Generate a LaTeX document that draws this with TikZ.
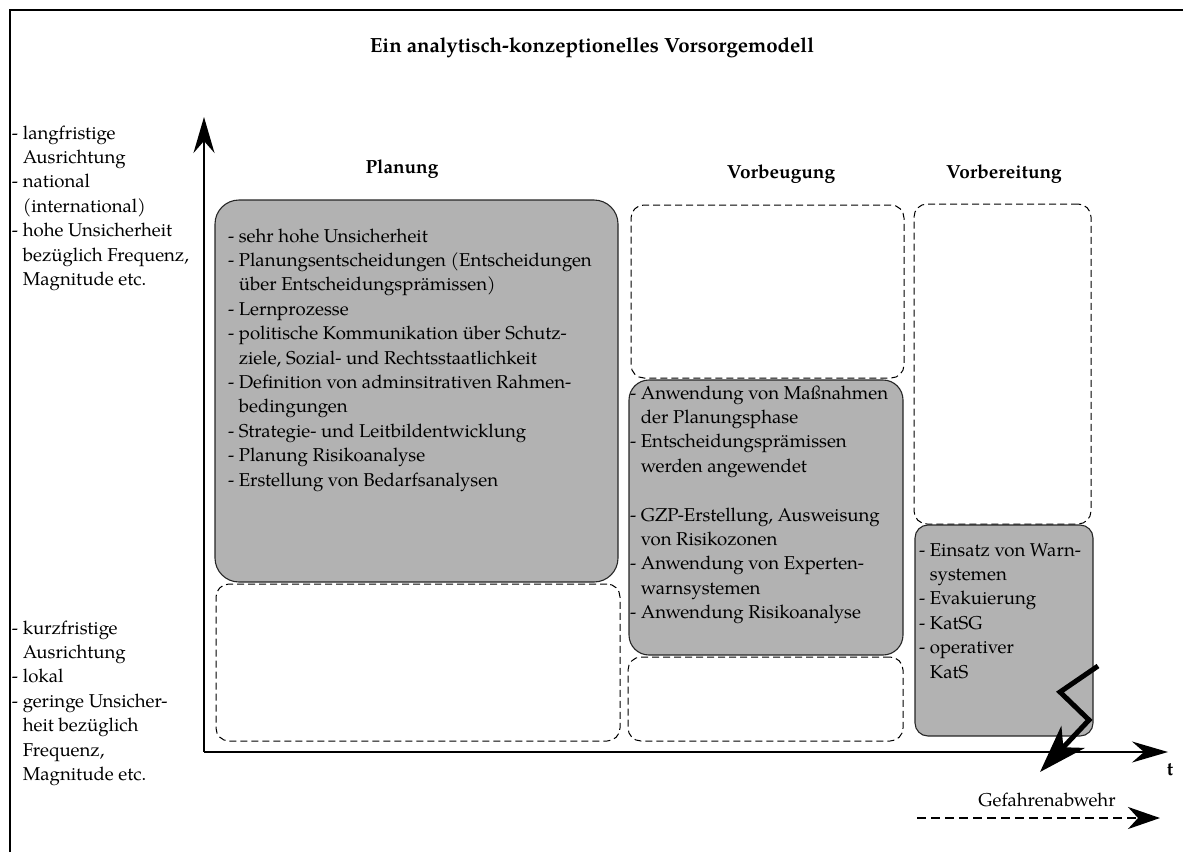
\documentclass[tikz,border=0pt]{standalone}
\usepackage{fontspec}
\setmainfont{TeX Gyre Pagella}
\usetikzlibrary{arrows.meta}
% a left-aligned block whose baseline is that of its first line
\newcommand{\lns}[1]{\begin{tabular}[t]{@{}l@{}}#1\end{tabular}}
% indent of a continued list line
\newcommand{\ind}{\hphantom{-\ }}
\begin{document}
\begin{tikzpicture}[x=1pt,y=-1pt,
  every node/.style={inner sep=0pt, outer sep=0pt},
  txt/.style={anchor=base west, font=\fontsize{18.6}{24.4}\selectfont},
  head/.style={anchor=base, font=\fontsize{19}{24}\selectfont\bfseries},
  graybox/.style={draw=black!85, fill=black!30, line width=1.1pt, anchor=north west},
  dashbox/.style={draw, line width=1pt, dash pattern=on 7pt off 4pt, rounded corners=13pt, anchor=north west},
  axis/.style={line width=1.6pt, -{Stealth[length=36pt,width=21pt,inset=12pt]}},
]
\useasboundingbox (0,0) rectangle (1183,852);

% frame
\draw[line width=1.1pt] (10,852) -- (10,10) -- (1183,10);

% title and phase headings
\node[head, font=\fontsize{20.5}{24}\selectfont\bfseries] (title) at (592,52) {Ein analytisch-konzeptionelles Vorsorgemodell};
\node[head] (hplan) at (402,173) {Planung};
\node[head] (hvbg) at (781,178) {Vorbeugung};
\node[head] (hvbt) at (1004,178) {Vorbereitung};

% phase boxes
\node[graybox, rounded corners=24pt, minimum width=403pt, minimum height=382pt] (planA) at (215,200) {};
\node[dashbox, minimum width=404pt, minimum height=157pt] (planB) at (216,584) {};
\node[dashbox, minimum width=273pt, minimum height=173pt] (vbgA) at (631,205) {};
\node[graybox, rounded corners=20pt, minimum width=274pt, minimum height=275pt] (vbgB) at (629,380) {};
\node[dashbox, minimum width=275pt, minimum height=84pt] (vbgC) at (628,657) {};
\node[dashbox, minimum width=177pt, minimum height=320pt] (vbtA) at (914,204) {};
\node[graybox, rounded corners=13pt, minimum width=178pt, minimum height=211pt] (vbtB) at (915,525) {};

% box contents
\node[txt] (tplan) at (228,242) {\lns{%
- sehr hohe Unsicherheit\\
- Planungsentscheidungen (Entscheidungen\\
\ind \"uber Entscheidungspr\"amissen)\\
- Lernprozesse\\
- politische Kommunikation \"uber Schutz-\\
\ind ziele, Sozial- und Rechtsstaatlichkeit\\
- Definition von adminsitrativen Rahmen-\\
\ind bedingungen\\
- Strategie- und Leitbildentwicklung\\
- Planung Risikoanalyse\\
- Erstellung von Bedarfsanalysen}};

\node[txt] (tvbg) at (630,399) {\lns{%
- Anwendung von Ma\ss nahmen\\
\ind der Planungsphase\\
- Entscheidungspr\"amissen\\
\ind werden angewendet\\
\mbox{}\\
- GZP-Erstellung, Ausweisung\\
\ind von Risikozonen\\
- Anwendung von Experten-\\
\ind warnsystemen\\
- Anwendung Risikoanalyse}};

\node[txt] (tvbt) at (919,556) {\lns{%
- Einsatz von Warn-\\
\ind systemen\\
- Evakuierung\\
- KatSG\\
- operativer\\
\ind KatS}};

% descriptions of the vertical scale
\node[txt] (ltop) at (12,139) {\lns{%
- langfristige\\
\ind Ausrichtung\\
- national\\
\ind (international)\\
- hohe Unsicherheit\\
\ind bez\"uglich Frequenz,\\
\ind Magnitude etc.}};

\node[txt] (lbot) at (12,634) {\lns{%
- kurzfristige\\
\ind Ausrichtung\\
- lokal\\
- geringe Unsicher-\\
\ind heit bez\"uglich\\
\ind Frequenz,\\
\ind Magnitude etc.}};

% axes
\coordinate (O) at (204,752);
\coordinate (ytop) at (204,117);
\coordinate (xend) at (1168,752);
\draw[axis] (O) -- (ytop);
\draw[axis] (O) -- (xend);
\node[head] (tlab) at (1170,775) {t};

% hazard flash
\coordinate (z1) at (1098,666);
\coordinate (z2) at (1060,692);
\coordinate (z3) at (1089,720);
\coordinate (z4) at (1040,772);
\draw[line width=5pt, -{Stealth[length=48pt,width=32pt,inset=14pt]}] (z1) -- (z2) -- (z3) -- (z4);

% hazard defence
\node[txt, anchor=base] (gabw) at (1047,806) {Gefahrenabwehr};
\coordinate (g1) at (917,818);
\coordinate (g2) at (1160,818);
\draw[line width=2.8pt, dash pattern=on 9pt off 5pt, -{Stealth[length=32pt,width=22pt,inset=10pt]}] (g1) -- (g2);
\end{tikzpicture}
\end{document}
